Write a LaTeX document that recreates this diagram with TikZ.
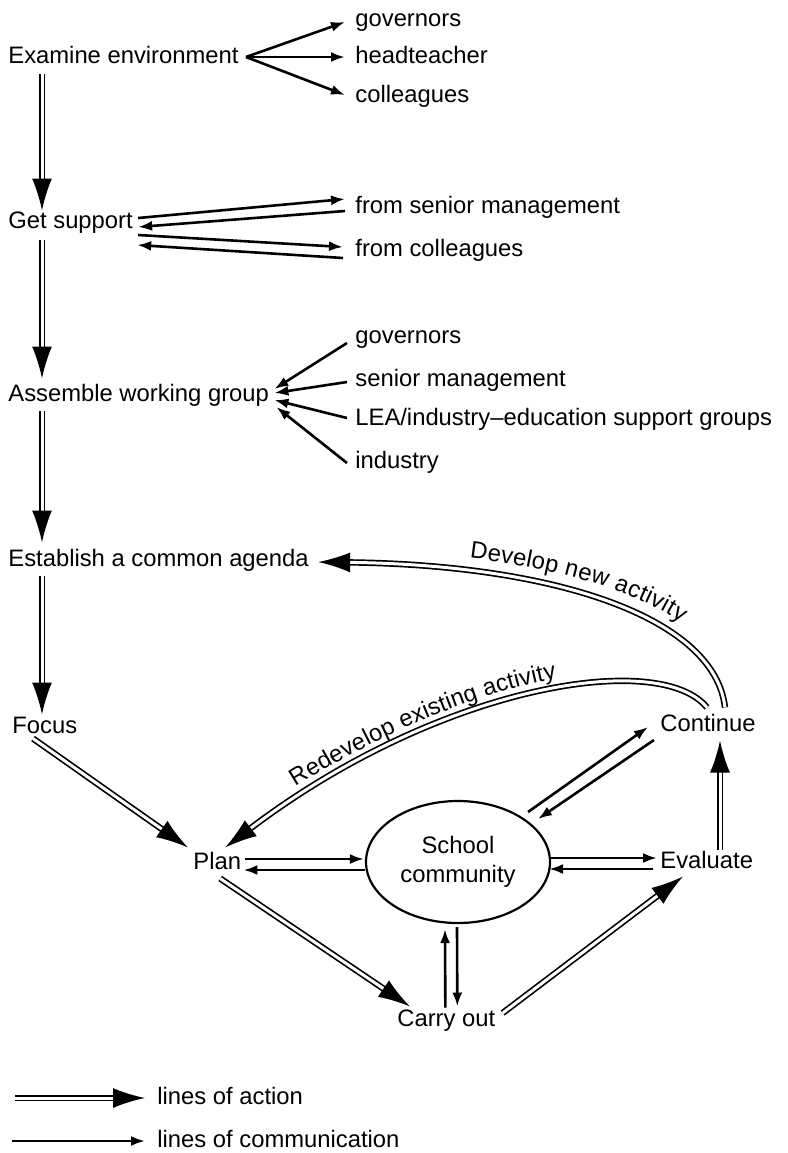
\documentclass[tikz,border=0pt]{standalone}
\usepackage{fontspec}
\setmainfont{Liberation Sans}
\usetikzlibrary{arrows.meta,shapes.geometric,calc,decorations.text}
\newcommand{\lblfont}{\fontsize{11.9}{14.5}\selectfont}

\begin{document}
\begin{tikzpicture}[x=0.5pt,y=-0.5pt,font=\lblfont,
    lbl/.style={anchor=west,inner sep=0pt,text height=8.6pt,text depth=2.5pt},
    comm/.style={line width=1.3pt,-{Latex[length=7pt,width=5pt]}},
    action/.style={double,double distance=1.5pt,line width=0.85pt,-{Latex[length=16pt,width=10pt]}},
    place/.style={draw,ellipse,line width=1.1pt,inner sep=0pt,minimum width=92pt,minimum height=61pt,align=center}]
    \useasboundingbox (0,0) rectangle (788,1153);

    \node[lbl] (exam) at (8,57) {Examine environment};
    \node[lbl] (gov1) at (355,20) {governors};
    \node[lbl] (headt) at (355,57) {headteacher};
    \node[lbl] (coll1) at (355,96) {colleagues};
    \node[lbl] (supp) at (8,222) {Get support};
    \node[lbl] (snr1) at (355,207) {from senior management};
    \node[lbl] (coll2) at (355,250) {from colleagues};
    \node[lbl] (assem) at (8,395) {Assemble working group};
    \node[lbl] (gov2) at (355,337) {governors};
    \node[lbl] (snr2) at (355,380) {senior management};
    \node[lbl] (lea) at (355,419) {LEA/industry\textendash education support groups};
    \node[lbl] (ind) at (355,462) {industry};
    \node[lbl] (agenda) at (8,560) {Establish a common agenda};
    \node[lbl] (focus) at (12,727) {Focus};
    \node[lbl] (plan) at (193,863) {Plan};
    \node[place] (school) at (458,862) {School\\community};
    \node[lbl] (cont) at (660,725) {Continue};
    \node[lbl] (eval) at (660,862) {Evaluate};
    \node[lbl] (carry) at (397,1020) {Carry out};
    \node[lbl] (actlbl) at (157,1098) {lines of action};
    \node[lbl] (comlbl) at (157,1141) {lines of communication};

    \draw[action] ([shift={(34,5)}]exam.south west) -- ([shift={(34,0)}]supp.north west);
    \draw[action] ([shift={(34,6)}]supp.south west) -- ([shift={(34,-5)}]assem.north west);
    \draw[action] ([shift={(34,4)}]assem.south west) -- ([shift={(34,-6)}]agenda.north west);
    \draw[action] ([shift={(34,4)}]agenda.south west) -- ([shift={(30,-1)}]focus.north west);

    \draw[comm] ([shift={(7,0)}]exam.east) -- ([shift={(-10,2)}]gov1.west);
    \draw[comm] ([shift={(7,0)}]exam.east) -- ([shift={(-10,0)}]headt.west);
    \draw[comm] ([shift={(7,0)}]exam.east) -- ([shift={(-10,-1)}]coll1.west);

    \draw[comm] ([shift={(5,-4)}]supp.east) -- ([shift={(-10,-8)}]snr1.west);
    \draw[comm] ([shift={(-10,4)}]snr1.west) -- ([shift={(5,5)}]supp.east);
    \draw[comm] ([shift={(5,13)}]supp.east) -- ([shift={(-12,-3)}]coll2.west);
    \draw[comm] ([shift={(-12,8)}]coll2.west) -- ([shift={(4,23)}]supp.east);

    \draw[comm] ([shift={(-8,6)}]gov2.west) -- ([shift={(5,-6)}]assem.east);
    \draw[comm] ([shift={(-8,2)}]snr2.west) -- ([shift={(5,-2)}]assem.east);
    \draw[comm] ([shift={(-8,-1)}]lea.west) -- ([shift={(5,5)}]assem.east);
    \draw[comm] ([shift={(-8,1)}]ind.west) -- ([shift={(7,12)}]assem.east);

    \draw[action] ([shift={(21,0)}]focus.south west) -- ([shift={(-5,-4)}]plan.north west);

    \draw[comm] ([shift={(4,-4)}]plan.east) -- ([shift={(-1,-3)}]school.west);
    \draw[comm] ([shift={(0,8)}]school.west) -- ([shift={(2,7)}]plan.east);
    \draw[comm] ([shift={(-2,-4)}]school.east) -- ([shift={(-3,-4)}]eval.west);
    \draw[comm] ([shift={(-7,7)}]eval.west) -- ([shift={(-2,7)}]school.east);
    \draw[comm] ([shift={(70,-50)}]school.center) -- ([shift={(-12,2)}]cont.west);
    \draw[comm] ([shift={(-6,15)}]cont.west) -- ([shift={(80,-43)}]school.center);
    \draw[comm] ([shift={(-1,-1)}]carry.north) -- ([shift={(-13,5)}]school.south);
    \draw[comm] ([shift={(-1,3)}]school.south) -- ([shift={(11,-2)}]carry.north);

    \draw[action] ([shift={(3,4)}]plan.south) -- ([shift={(13,-2)}]carry.north west);
    \draw[action] ([shift={(7,-7)}]carry.east) -- ([shift={(23,3)}]eval.south west);
    \draw[action] ([shift={(60,-1)}]eval.north west) -- ([shift={(60,4)}]cont.south west);

    \coordinate (devA) at ([shift={(9,2)}]agenda.east);
    \coordinate (devB) at ([shift={(65,-6)}]cont.north west);
    \draw[action] (devB) .. controls ($(devB)+(-10,-88)$) and ($(devA)+(243,3)$) .. (devA);
    \path[decorate,decoration={text along path,text={|\lblfont|Develop new activity},raise=7pt,text align={left indent=75pt}}]
      (devA) .. controls ($(devA)+(243,3)$) and ($(devB)+(-10,-88)$) .. (devB);

    \coordinate (redA) at ([shift={(8,-4)}]plan.north);
    \coordinate (redB) at ([shift={(47,-6)}]cont.north west);
    \draw[action] (redB) .. controls ($(redB)+(-47,-58)$) and ($(redA)+(215,-163)$) .. (redA);
    \path[decorate,decoration={text along path,text={|\lblfont|Redevelop existing activity},raise=5pt,text align={left indent=46pt}}]
      (redA) .. controls ($(redA)+(215,-163)$) and ($(redB)+(-47,-58)$) .. (redB);

    \coordinate (act0) at (15,1098);
    \coordinate (com0) at (12,1141);
    \draw[action] (act0) -- ([shift={(-12,0)}]actlbl.west);
    \draw[comm] (com0) -- ([shift={(-12,0)}]comlbl.west);
\end{tikzpicture}
\end{document}
